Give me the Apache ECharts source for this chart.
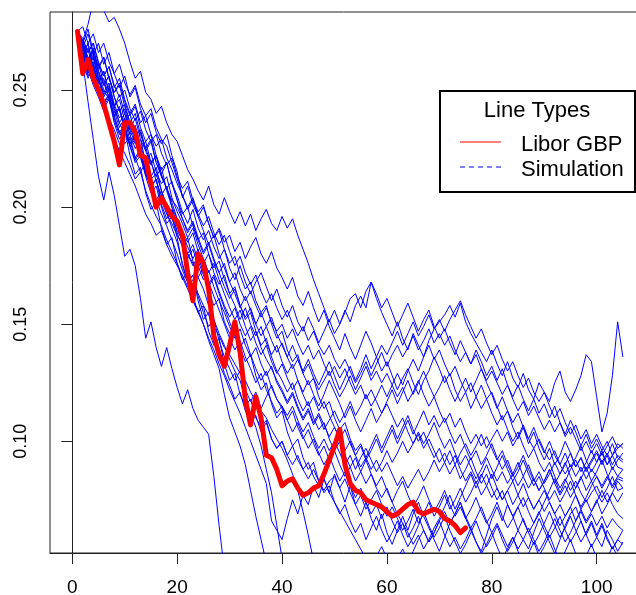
<!DOCTYPE html>
<html>
<head>
<meta charset="utf-8">
<title>Libor GBP vs simulation</title>
<script src="https://cdn.jsdelivr.net/npm/echarts@6/dist/echarts.min.js"></script>
<style>
html, body { margin: 0; padding: 0; background: #fff; }
#chart { width: 636px; height: 595px; }
</style>
</head>
<body>
<div id="chart"></div>
<script>
// observed rate, one value per step starting at step 1
const libor = [
  .275, .257, .263, .255, .250, .244, .236, .228, .218, .236,
  .236, .232, .222, .221, .210, .200, .204, .200, .196, .194,
  .188, .172, .160, .180, .176, .165, .145, .137, .132, .141,
  .151, .138, .118, .107, .119, .110, .094, .093, .088, .081,
  .083, .084, .080, .077, .078, .080, .081, .086, .092, .098,
  .105, .090, .082, .079, .078, .075, .074, .073, .072, .070,
  .068, .069, .071, .073, .074, .070, .069, .070, .071, .070,
  .067, .066, .064, .061, .063
];

// simulated paths (step 1..n)
const sim01 = [
  .275, .271, .278, .288, .295, .284, .279, .281, .276, .270,
  .262, .255, .258, .249, .246, .240, .243, .236, .231, .228,
  .222, .216, .212, .207, .203, .209, .201, .197, .204, .198,
  .193, .198, .192, .197, .190, .195, .199, .193, .190, .196,
  .191, .195, .188, .182, .176, .169, .163, .157, .151, .156,
  .150, .155, .161, .163, .157, .164, .168, .161, .155, .150,
  .145, .151, .144, .139, .146, .141, .136, .143, .148, .151,
  .154, .158, .153, .159, .151, .146, .142, .138, .134, .139,
  .133, .128, .134, .127, .123, .129, .122, .118, .125, .121,
  .117, .125, .130, .121, .117, .122, .128, .137, .134, .119,
  .104, .112, .128, .151, .136
];
const sim02 = [
  .275, .262, .245, .229, .213, .203, .215, .205, .192, .179,
  .182, .175, .161, .144, .151, .140, .132, .140, .131, .123,
  .116, .122, .114, .109, .106, .103, .085, .064, .045
];
const sim03 = [
  .275, .268, .262, .266, .257, .250, .246, .239, .242, .233,
  .226, .229, .221, .214, .209, .203, .197, .192, .186, .180,
  .173, .168, .160, .156, .150, .143, .137, .131, .120, .110,
  .104, .098, .090, .079, .068, .058, .048
];
const sim04 = [
  .275, .270, .264, .258, .261, .253, .247, .242, .236, .231,
  .235, .228, .222, .217, .212, .214, .207, .200, .195, .190,
  .186, .180, .176, .170, .165, .158, .152, .146, .141, .135,
  .130, .126, .118, .112, .106, .098, .088, .078, .064, .050
];
const sim05 = [
  .275, .266, .259, .252, .247, .241, .236, .229, .224, .219,
  .214, .209, .203, .197, .193, .188, .190, .184, .179, .175,
  .171, .166, .169, .163, .158, .154, .149, .145, .140, .137,
  .133, .129, .126, .121, .117, .113, .110, .105, .101, .097,
  .092, .086, .079, .070, .060, .049
];
const sim06 = [
  .275, .269, .261, .256, .249, .244, .238, .233, .227, .223,
  .218, .212, .215, .207, .201, .196, .192, .186, .181, .176,
  .170, .165, .160, .155, .150, .144, .139, .133, .128, .122,
  .117, .112, .106, .100, .094, .088, .082, .066, .062, .058,
  .067, .075, .069, .077, .073, .081, .076, .084, .078, .086,
  .080, .074, .081, .073, .068, .074, .067, .062, .069, .061,
  .056, .062, .068, .062, .069, .074, .068, .063, .058, .053,
  .059, .065, .069, .074, .067, .062, .057, .053, .060, .067,
  .072, .066, .073, .068, .062, .058, .054, .061, .067, .062,
  .057, .052, .058, .064, .069, .072, .066, .060, .065, .059,
  .055, .062, .058, .053, .057
];
const sim07 = [
  .275, .268, .274, .265, .270, .261, .266, .257, .251, .256,
  .247, .251, .242, .236, .240, .232, .227, .231, .222, .215,
  .204, .209, .201, .196, .200, .193, .187, .191, .185, .188,
  .181, .185, .178, .183, .187, .180, .176, .181, .174, .170,
  .165, .170, .162, .158, .164, .157, .151, .156, .149, .144,
  .139, .146, .140, .135, .141, .147, .142, .136, .130, .134,
  .128, .122, .127, .131, .125, .120, .126, .130, .136, .131,
  .125, .129, .122, .117, .121, .114, .119, .124, .118, .121,
  .115, .109, .113, .106, .101, .106, .099, .104, .097, .092,
  .097, .090, .094, .100, .095, .089, .093, .087, .091, .095,
  .090, .094, .088, .092, .095
];
const sim08 = [
  .275, .264, .270, .259, .253, .258, .249, .243, .248, .240,
  .233, .238, .229, .224, .228, .219, .214, .219, .210, .205,
  .198, .193, .199, .191, .186, .190, .183, .178, .182, .174,
  .169, .175, .168, .163, .168, .172, .166, .160, .165, .158,
  .153, .158, .151, .147, .153, .148, .142, .147, .152, .146,
  .150, .156, .151, .158, .162, .157, .168, .163, .157, .161,
  .155, .149, .154, .159, .153, .147, .152, .156, .149, .144,
  .148, .142, .137, .143, .138, .133, .139, .134, .128, .132,
  .126, .131, .124, .119, .124, .118, .113, .118, .112, .116,
  .110, .115, .108, .103, .109, .104, .098, .103, .097, .101,
  .096, .100, .094, .097, .099
];
const sim09 = [
  .275, .266, .259, .264, .255, .249, .253, .244, .238, .242,
  .233, .227, .232, .224, .218, .222, .213, .208, .203, .200,
  .195, .189, .193, .186, .180, .184, .177, .172, .176, .168,
  .163, .157, .162, .156, .150, .155, .149, .153, .146, .141,
  .136, .141, .135, .130, .135, .129, .124, .129, .134, .128,
  .122, .127, .132, .126, .131, .137, .131, .136, .141, .137,
  .142, .147, .141, .146, .151, .145, .149, .154, .148, .152,
  .147, .152, .156, .160, .154, .149, .144, .148, .142, .137,
  .141, .135, .130, .134, .128, .123, .127, .121, .117, .121,
  .115, .110, .114, .108, .103, .107, .101, .105, .099, .103,
  .098, .094, .099, .093, .091
];
const sim10 = [
  .275, .263, .268, .257, .250, .255, .246, .239, .243, .233,
  .227, .231, .222, .216, .220, .211, .205, .209, .200, .195,
  .190, .185, .189, .181, .176, .180, .172, .167, .171, .163,
  .158, .152, .157, .150, .145, .149, .142, .137, .141, .134,
  .129, .133, .126, .121, .126, .120, .115, .120, .126, .121,
  .116, .110, .115, .109, .104, .109, .114, .108, .112, .117,
  .122, .116, .121, .126, .120, .125, .130, .124, .119, .123,
  .128, .122, .117, .122, .127, .121, .126, .131, .125, .120,
  .114, .119, .113, .108, .112, .106, .101, .106, .100, .095,
  .100, .094, .090, .095, .089, .093, .098, .092, .087, .091,
  .096, .090, .094, .089, .088
];
const sim11 = [
  .275, .269, .261, .265, .255, .248, .252, .243, .236, .240,
  .231, .225, .229, .219, .213, .217, .207, .201, .196, .192,
  .186, .180, .175, .179, .172, .167, .171, .164, .158, .153,
  .157, .150, .145, .149, .142, .137, .141, .134, .129, .133,
  .127, .122, .126, .120, .115, .119, .113, .117, .111, .106,
  .101, .105, .099, .094, .098, .092, .096, .101, .095, .100,
  .105, .099, .104, .109, .103, .108, .113, .107, .111, .106,
  .110, .104, .099, .103, .097, .092, .096, .090, .094, .099,
  .093, .088, .092, .086, .081, .085, .090, .084, .079, .083,
  .088, .082, .086, .091, .085, .080, .084, .089, .083, .087,
  .092, .086, .081, .085, .084
];
const sim12 = [
  .275, .262, .255, .260, .249, .243, .247, .237, .231, .235,
  .226, .220, .224, .214, .209, .212, .203, .197, .193, .188,
  .184, .178, .182, .175, .169, .173, .166, .160, .155, .149,
  .144, .148, .141, .136, .140, .133, .128, .132, .125, .121,
  .116, .120, .114, .109, .113, .107, .111, .105, .109, .113,
  .108, .112, .117, .111, .115, .120, .115, .119, .124, .119,
  .124, .129, .124, .130, .135, .130, .136, .141, .135, .139,
  .133, .128, .132, .126, .121, .125, .119, .114, .118, .112,
  .107, .111, .105, .100, .104, .098, .093, .097, .091, .087,
  .091, .085, .080, .084, .079, .083, .078, .074, .078, .081,
  .076, .080, .085, .079, .080
];
const sim13 = [
  .275, .266, .257, .261, .251, .244, .248, .238, .232, .227,
  .230, .221, .215, .219, .209, .203, .207, .198, .191, .185,
  .176, .168, .171, .162, .155, .149, .152, .143, .136, .131,
  .126, .130, .122, .117, .121, .114, .119, .124, .118, .115,
  .111, .115, .109, .104, .108, .102, .097, .101, .096, .100,
  .095, .090, .094, .088, .093, .097, .092, .087, .091, .096,
  .091, .095, .100, .095, .099, .104, .099, .103, .108, .102,
  .097, .101, .095, .090, .094, .089, .084, .088, .093, .088,
  .083, .087, .082, .086, .091, .085, .080, .084, .079, .083,
  .088, .082, .077, .081, .076, .080, .085, .079, .083, .078,
  .074, .078, .073, .069, .067
];
const sim14 = [
  .275, .271, .262, .267, .258, .252, .256, .247, .241, .236,
  .240, .230, .225, .228, .219, .213, .217, .207, .200, .192,
  .185, .180, .184, .177, .171, .166, .170, .163, .157, .151,
  .145, .140, .144, .137, .131, .126, .130, .123, .118, .114,
  .109, .113, .106, .101, .105, .099, .094, .098, .092, .096,
  .090, .085, .089, .083, .087, .092, .086, .081, .085, .079,
  .074, .079, .083, .077, .072, .076, .081, .075, .070, .074,
  .079, .073, .068, .072, .067, .071, .076, .070, .065, .069,
  .074, .068, .063, .067, .072, .066, .061, .065, .070, .064,
  .059, .063, .068, .062, .057, .061, .066, .060, .055, .059,
  .064, .058, .054, .058, .056
];
const sim15 = [
  .275, .270, .276, .266, .260, .264, .255, .249, .252, .243,
  .236, .240, .231, .225, .229, .219, .213, .208, .202, .195,
  .189, .183, .178, .182, .174, .168, .162, .156, .150, .144,
  .139, .143, .136, .131, .125, .129, .122, .117, .112, .115,
  .109, .104, .108, .102, .097, .101, .095, .090, .094, .088,
  .083, .087, .081, .076, .080, .074, .069, .073, .067, .072,
  .066, .061, .065, .059, .063, .068, .062, .057, .061, .066,
  .060, .055, .059, .054, .058, .063, .057, .052, .056, .061,
  .055, .050, .054, .059, .053, .048, .052, .057, .051, .055,
  .060, .054, .049, .053, .058, .052, .047, .051, .056, .050,
  .046, .050, .055, .051, .048
];
const sim16 = [
  .275, .264, .256, .260, .249, .242, .246, .236, .229, .233,
  .222, .214, .217, .206, .199, .202, .191, .184, .187, .176,
  .169, .172, .162, .155, .158, .147, .141, .144, .133, .126,
  .129, .120, .115, .118, .110, .106, .109, .101, .097, .100,
  .094, .090, .094, .088, .084, .088, .083, .079, .083, .085,
  .080, .084, .078, .073, .077, .071, .075, .079, .073, .068,
  .072, .067, .062, .066, .071, .065, .069, .074, .068, .072,
  .077, .071, .075, .080, .074, .078, .083, .077, .081, .086,
  .080, .075, .079, .073, .077, .082, .076, .071, .075, .079,
  .074, .069, .073, .068, .072, .077, .071, .066, .070, .075,
  .069, .073, .078, .074, .078
];
const sim17 = [
  .275, .270, .263, .268, .259, .264, .255, .249, .253, .245,
  .239, .243, .234, .228, .231, .222, .216, .219, .210, .203,
  .195, .190, .194, .187, .181, .185, .178, .172, .166, .161,
  .165, .158, .153, .157, .150, .145, .149, .143, .138, .142,
  .136, .131, .135, .129, .133, .127, .122, .126, .130, .124,
  .119, .123, .128, .122, .127, .132, .126, .130, .125, .129,
  .124, .119, .123, .117, .121, .126, .120, .115, .119, .113,
  .108, .112, .106, .110, .104, .099, .103, .098, .102, .097,
  .092, .096, .090, .085, .089, .094, .088, .083, .087, .082,
  .086, .091, .086, .090, .095, .089, .093, .088, .092, .096,
  .091, .095, .090, .094, .092
];
const sim18 = [
  .275, .272, .266, .270, .262, .256, .260, .251, .255, .246,
  .240, .244, .236, .239, .231, .226, .229, .221, .216, .210,
  .205, .199, .203, .196, .190, .184, .188, .180, .174, .168,
  .172, .165, .160, .164, .158, .153, .157, .151, .147, .150,
  .144, .148, .142, .137, .141, .135, .139, .133, .128, .132,
  .127, .131, .125, .120, .124, .118, .122, .117, .112, .116,
  .111, .106, .110, .104, .099, .103, .097, .101, .096, .091,
  .095, .090, .094, .088, .083, .087, .082, .086, .081, .076,
  .080, .075, .079, .083, .077, .072, .076, .071, .075, .070,
  .074, .069, .064, .068, .072, .066, .070, .065, .069, .064,
  .068, .063, .067, .064, .062
];
const sim19 = [
  .275, .277, .270, .274, .266, .270, .262, .257, .261, .253,
  .248, .252, .244, .239, .242, .234, .229, .226, .219, .212,
  .205, .200, .204, .197, .192, .196, .189, .184, .188, .181,
  .175, .179, .172, .167, .171, .164, .159, .163, .157, .152,
  .156, .150, .145, .149, .143, .147, .141, .137, .141, .135,
  .131, .135, .130, .125, .129, .134, .128, .133, .138, .132,
  .137, .141, .136, .140, .145, .139, .143, .148, .142, .146,
  .141, .145, .139, .134, .138, .133, .137, .131, .126, .130,
  .125, .120, .124, .118, .113, .117, .111, .115, .110, .105,
  .109, .104, .108, .102, .106, .101, .096, .100, .095, .099,
  .094, .098, .102, .097, .099
];
const sim20 = [
  .275, .265, .270, .260, .254, .258, .249, .243, .246, .237,
  .231, .235, .226, .220, .223, .215, .210, .213, .204, .198,
  .193, .187, .191, .184, .178, .172, .176, .169, .163, .157,
  .152, .156, .149, .143, .147, .140, .135, .131, .126, .122,
  .117, .121, .115, .110, .114, .108, .112, .107, .102, .106,
  .101, .096, .100, .094, .089, .093, .088, .092, .087, .091,
  .086, .081, .085, .080, .084, .088, .083, .087, .092, .087,
  .091, .096, .090, .095, .099, .094, .098, .103, .097, .101,
  .105, .100, .104, .098, .102, .107, .101, .097, .101, .096,
  .092, .096, .090, .086, .090, .085, .089, .084, .088, .085,
  .081, .085, .080, .084, .083
];
const sim21 = [
  .275, .268, .260, .264, .254, .247, .251, .241, .234, .238,
  .228, .221, .225, .215, .208, .212, .201, .195, .199, .189,
  .183, .187, .177, .170, .174, .164, .158, .161, .151, .146,
  .149, .140, .134, .137, .128, .122, .125, .116, .110, .113,
  .104, .098, .101, .093, .088, .091, .083, .078, .081, .074,
  .069, .073, .066, .061, .065, .058, .063, .068, .062, .057,
  .061, .066, .060, .055, .059, .064, .070, .064, .059, .063,
  .068, .062, .057, .052, .056, .061, .066, .060, .055, .059,
  .064, .058, .053, .057, .062, .067, .061, .056, .060, .065,
  .070, .064, .059, .063, .068, .062, .057, .061, .066, .060,
  .065, .059, .054, .058, .062
];
const sim22 = [
  .275, .270, .263, .267, .258, .252, .256, .247, .241, .244,
  .236, .230, .233, .225, .219, .222, .214, .208, .211, .203,
  .197, .200, .192, .186, .189, .180, .174, .177, .169, .163,
  .166, .158, .152, .155, .147, .141, .144, .136, .130, .126,
  .121, .125, .118, .113, .117, .110, .105, .108, .101, .096,
  .100, .094, .089, .093, .087, .082, .086, .080, .076, .080,
  .074, .069, .065, .061, .056, .060, .054, .058, .063, .067,
  .072, .077, .071, .076, .081, .086, .080, .085, .090, .084,
  .089, .094, .088, .083, .087, .092, .086, .081, .085, .080,
  .075, .079, .074, .078, .083, .077, .072, .076, .081, .085,
  .080, .084, .089, .085, .088
];
const sim23 = [
  .275, .265, .258, .262, .252, .245, .248, .239, .232, .235,
  .226, .219, .222, .213, .206, .209, .200, .193, .196, .187,
  .175, .168, .171, .160, .152, .155, .144, .137, .129, .124,
  .118, .121, .113, .108, .111, .104, .108, .101, .097, .100,
  .094, .098, .092, .088, .091, .085, .081, .084, .078, .074,
  .070, .066, .062, .058, .054, .050, .047, .051, .055, .050,
  .046, .050, .054, .049, .053, .058, .062, .057, .061, .066,
  .070, .065, .069, .074, .068, .063, .067, .072, .066, .061,
  .065, .060, .055, .059, .054, .058, .063, .058, .053, .057,
  .062, .067, .062, .057, .061, .066, .071, .075, .070, .074,
  .079, .074, .078, .083, .080
];
const sim24 = [
  .275, .271, .266, .270, .261, .256, .260, .252, .247, .250,
  .242, .237, .241, .233, .228, .231, .223, .218, .221, .213,
  .208, .211, .203, .198, .201, .193, .187, .190, .182, .176,
  .179, .171, .165, .168, .160, .155, .158, .150, .144, .147,
  .139, .134, .137, .129, .124, .127, .119, .114, .117, .110,
  .105, .108, .101, .096, .099, .093, .098, .103, .097, .102,
  .107, .101, .106, .111, .105, .100, .104, .098, .093, .097,
  .091, .086, .090, .084, .088, .093, .087, .082, .086, .080,
  .075, .079, .073, .068, .072, .076, .070, .065, .069, .074,
  .079, .084, .078, .083, .088, .092, .087, .091, .096, .091,
  .095, .090, .094, .099, .097
];

const xTicks = [0, 20, 40, 60, 80, 100];
const yTicks = [0.10, 0.15, 0.20, 0.25];

const sims = [sim01, sim02, sim03, sim04, sim05, sim06, sim07, sim08, sim09, sim10,
  sim11, sim12, sim13, sim14, sim15, sim16, sim17, sim18, sim19, sim20,
  sim21, sim22, sim23, sim24];

// step number is the x value
function toPoints(arr) {
  return arr.map((v, i) => [i + 1, v]);
}

const font = 'Liberation Sans, Arial, sans-serif';

const series = sims.map(s => ({
  name: 'Simulation',
  type: 'line',
  data: toPoints(s),
  showSymbol: false,
  silent: true,
  lineStyle: { color: '#0000ff', width: 1 },
  z: 2
}));
series.push({
  name: 'Libor GBP',
  type: 'line',
  data: toPoints(libor),
  showSymbol: false,
  silent: true,
  lineStyle: { color: '#ff0000', width: 5, cap: 'round', join: 'round' },
  z: 3
});

const chart = echarts.init(document.getElementById('chart'));
chart.setOption({
  animation: false,
  grid: {
    left: 50, top: 12, width: 742, height: 541,
    outerBoundsMode: 'none',
    show: true, borderColor: '#222', borderWidth: 1
  },
  xAxis: {
    type: 'value', min: -4.25, max: 137.25,
    splitLine: { show: false },
    axisLine: { lineStyle: { color: '#222' } },
    axisTick: { length: 11, customValues: xTicks, lineStyle: { color: '#222' } },
    axisLabel: { customValues: xTicks, fontSize: 19, color: '#000', margin: 25, fontFamily: font }
  },
  yAxis: {
    type: 'value', min: 0.0523, max: 0.2833,
    splitLine: { show: false },
    axisLine: { lineStyle: { color: '#222' } },
    axisTick: { length: 11, customValues: yTicks, lineStyle: { color: '#222' } },
    axisLabel: {
      customValues: yTicks, rotate: 90, fontSize: 18, color: '#000', margin: 20, fontFamily: font,
      formatter: v => v.toFixed(2)
    }
  },
  graphic: [
    {
      type: 'group', left: 439, top: 90, z: 100,
      children: [
        { type: 'rect', shape: { x: 0, y: 0, width: 195, height: 101 },
          style: { fill: '#fff', stroke: '#000', lineWidth: 2 } },
        { type: 'text', x: 97, y: 20,
          style: { text: 'Line Types', font: '22px ' + font, fill: '#000', align: 'center', verticalAlign: 'middle' } },
        { type: 'line', shape: { x1: 20, y1: 51, x2: 61, y2: 51 },
          style: { stroke: '#ff0000', lineWidth: 1 } },
        { type: 'line', shape: { x1: 20, y1: 76, x2: 61, y2: 76 },
          style: { stroke: '#0000ff', lineWidth: 1, lineDash: [5, 4] } },
        { type: 'text', x: 81, y: 54,
          style: { text: 'Libor GBP', font: '22px ' + font, fill: '#000', align: 'left', verticalAlign: 'middle' } },
        { type: 'text', x: 81, y: 79,
          style: { text: 'Simulation', font: '22px ' + font, fill: '#000', align: 'left', verticalAlign: 'middle' } }
      ]
    }
  ],
  series: series
});
</script>
</body>
</html>
